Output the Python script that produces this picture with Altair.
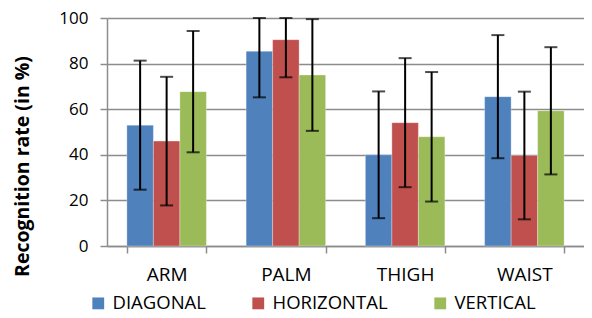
import altair as alt
import pandas as pd

categories = ["ARM", "PALM", "THIGH", "WAIST"]
series = ["DIAGONAL", "HORIZONTAL", "VERTICAL"]
colors = ["#4F81BD", "#C0504D", "#9BBB59"]

diagonal = [53.0, 85.4, 40.0, 65.5]
horizontal = [46.0, 90.5, 54.1, 39.7]
vertical = [67.7, 75.0, 47.9, 59.3]

diagonal_err = [28.3, 20.2, 27.8, 27.0]
horizontal_err = [28.2, 16.5, 28.3, 28.0]
vertical_err = [26.6, 24.5, 28.4, 27.9]

rows = []
for s, vals, errs in zip(series, [diagonal, horizontal, vertical],
                         [diagonal_err, horizontal_err, vertical_err]):
    for c, v, e in zip(categories, vals, errs):
        rows.append({"cat": c, "series": s, "value": v,
                     "lo": max(v - e, 0), "hi": min(v + e, 100)})
df = pd.DataFrame(rows)

FONT = "Open Sans"

x = alt.X("cat:N", sort=categories, title=None,
          scale=alt.Scale(paddingInner=1/3, paddingOuter=1/6),
          axis=alt.Axis(tickBand="extent", labelAngle=0, labelFontSize=19,
                        labelFont=FONT, labelColor="#000000", labelPadding=12,
                        domainColor="#8c8c8c", domainWidth=1.5,
                        tickColor="#8c8c8c", tickWidth=1.5, tickSize=7,
                        grid=False))
xo = alt.XOffset("series:N", sort=series, scale=alt.Scale(paddingInner=0, paddingOuter=0))

bars = alt.Chart(df).mark_bar(stroke="#ffffff", strokeWidth=0.6, strokeOpacity=0.5).encode(
    x=x,
    xOffset=xo,
    y=alt.Y("value:Q", scale=alt.Scale(domain=[0, 100]),
            title="Recognition rate (in %)",
            axis=alt.Axis(values=[0, 20, 40, 60, 80, 100], labelFontSize=17,
                          labelFont=FONT, labelColor="#000000", labelPadding=12,
                          gridColor="#8c8c8c", gridWidth=1.5,
                          domainColor="#8c8c8c", domainWidth=1.5,
                          tickColor="#8c8c8c", tickWidth=1.5, tickSize=7,
                          titleFont=FONT, titleFontSize=19.5, titleFontWeight="bold",
                          titleColor="#000000", titleAngle=270,
                          titleX=-85, titleY=148, titleAlign="center",
                          titleBaseline="middle")),
    color=alt.Color("series:N", sort=series,
                    scale=alt.Scale(domain=series, range=colors),
                    legend=alt.Legend(title=None, orient="none", direction="horizontal",
                                      legendX=-18, legendY=276,
                                      symbolType="square", symbolSize=140,
                                      symbolStrokeWidth=0, labelFontSize=18.5,
                                      labelFont=FONT, labelColor="#000000",
                                      labelOffset=5, columnPadding=43)),
)

rules = alt.Chart(df).mark_rule(color="#000000", strokeWidth=2).encode(
    x=x, xOffset=xo, y="lo:Q", y2="hi:Q")
caps_hi = alt.Chart(df).mark_tick(color="#000000", size=13, thickness=2).encode(
    x=x, xOffset=xo, y="hi:Q")
caps_lo = alt.Chart(df).mark_tick(color="#000000", size=13, thickness=2).encode(
    x=x, xOffset=xo, y="lo:Q")

chart = alt.layer(bars, rules, caps_hi, caps_lo).properties(
    width=477, height=228,
    autosize=alt.AutoSizeParams(type="none"),
    padding={"left": 99, "top": 10, "right": 0, "bottom": 64},
).configure_view(stroke=None)

chart.save("out.html", embed_options={"renderer": "svg", "actions": False})
